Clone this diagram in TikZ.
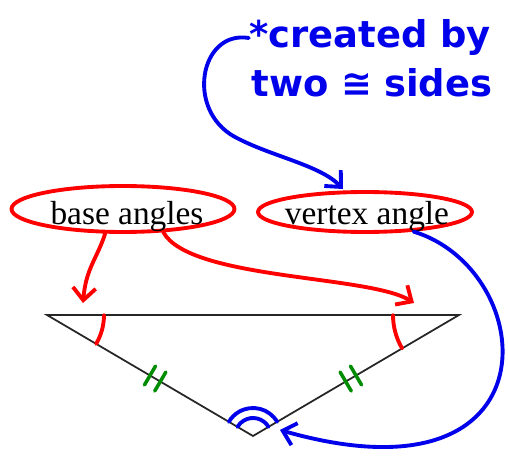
\documentclass[tikz,border=0pt]{standalone}
\usepackage{fontspec}
\setmainfont{Liberation Serif}
\newfontfamily\handfont{DejaVu Sans}
\usetikzlibrary{positioning, arrows.meta, shapes.geometric, calc, angles}
\definecolor{inkred}{RGB}{255,0,0}
\definecolor{inkblue}{RGB}{0,0,235}
\definecolor{inkgreen}{RGB}{0,140,0}

\begin{document}
\begin{tikzpicture}[x=0.02cm, y=-0.02cm,
    every node/.style={font=\fontsize{19}{22}\selectfont},
    redpen/.style={inkred, line width=2.2pt, line cap=round, line join=round},
    bluepen/.style={inkblue, line width=2.2pt, line cap=round, line join=round},
    greenpen/.style={inkgreen, line width=2pt, line cap=round},
    oval/.style={ellipse, draw, redpen, inner sep=0pt},
    inkarrow/.style={-{Straight Barb[length=7pt, width=13pt]}},
    handnote/.style={inkblue, anchor=base, inner sep=0pt, font=\handfont\bfseries\fontsize{21}{24}\selectfont}]
    \useasboundingbox (0,0) rectangle (508,456);
    % Triangle
    \coordinate (tL) at (47,315);
    \coordinate (tR) at (459,315);
    \coordinate (tB) at (253,436);
    \draw[black!85, line width=1pt] (tL) -- (tR) -- (tB) -- cycle;
    % Angle marks
    \pic[draw, redpen, angle radius=1.14cm] {angle = tB--tL--tR};
    \pic[draw, redpen, angle radius=1.32cm] {angle = tL--tR--tB};
    \pic[draw, bluepen, angle radius=0.36cm] {angle = tR--tB--tL};
    \pic[draw, bluepen, angle radius=0.56cm] {angle = tR--tB--tL};
    % Congruent sides
    \foreach \p in {0.45, 0.5}
    {
      \draw[greenpen] ($(tB)!\p!(tL)!0.22cm!90:(tL)$) -- ($(tB)!\p!(tL)!0.22cm!-90:(tL)$);
      \draw[greenpen] ($(tB)!\p!(tR)!0.22cm!90:(tR)$) -- ($(tB)!\p!(tR)!0.22cm!-90:(tR)$);
    }
    % Labels
    \node[oval, minimum width=4.46cm, minimum height=0.92cm] (baseOval) at (123,209) {};
    \node[anchor=base] (baseLbl) at (127,225) {base angles};
    \node[oval, minimum width=4.28cm, minimum height=0.8cm] (vertOval) at (365,212) {};
    \node[anchor=base] (vertLbl) at (367,225) {vertex angle};
    % Note
    \node[handnote] (note1) at (370,48) {*created by};
    \node[handnote] (note2) at (372,97) {two\hspace{7pt}≅\hspace{7pt}sides};
    % Arrow ends
    \coordinate (aL) at (83,303);
    \coordinate (aR) at (414,303);
    \coordinate (aTop) at (343,189);
    \coordinate (aBot) at (280,430);
    % Arrows
    \draw[redpen, inkarrow] (baseOval.-126) .. controls +(-8,25) and +(3,-35) .. (aL);
    \draw[redpen, inkarrow] (baseOval.-30) .. controls (190,280) and (370,275) .. (aR);
    \draw[bluepen, inkarrow] (note1.west) .. controls (200,30) and (185,110) .. (235,137)
      .. controls (270,156) and (320,165) .. (aTop);
    \draw[bluepen, inkarrow] (vertOval.-22) .. controls (540,270) and (560,510) .. (aBot);
\end{tikzpicture}
\end{document}
